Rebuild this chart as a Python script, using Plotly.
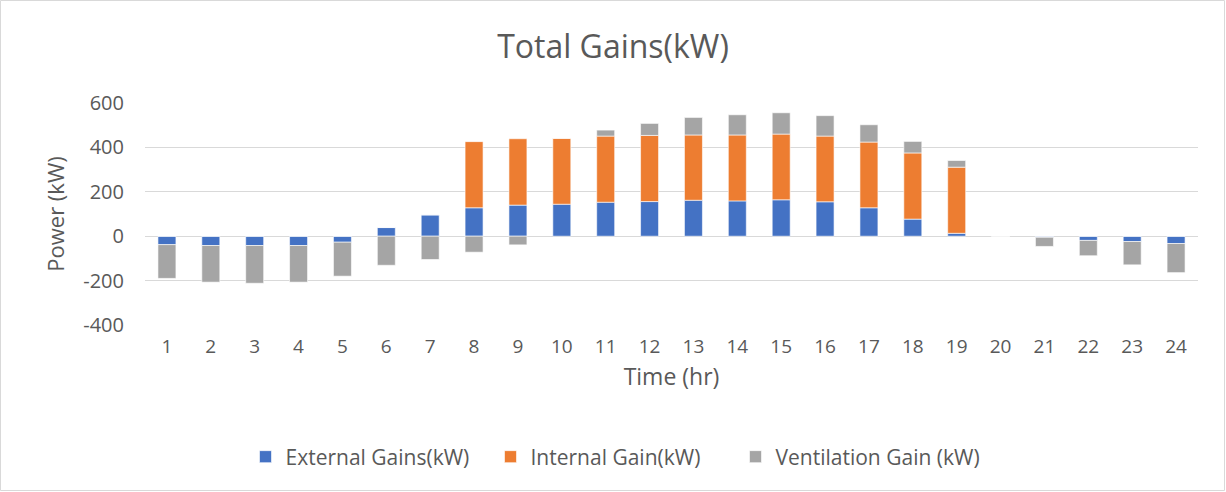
import plotly.graph_objects as go

hours = list(range(1, 25))
external = [-38, -42, -42, -42, -27, 39, 96, 128, 140, 144, 153, 156, 162, 159, 164, 155,
            128, 77, 13, 0, -5, -19, -24, -33]
internal = [0, 0, 0, 0, 0, 0, 0, 298, 299, 297, 298, 298, 294, 297, 296, 296,
            296, 298, 298, 0, 0, 0, 0, 0]
ventilation = [-152, -165, -170, -165, -153, -131, -105, -72, -39, 0, 27, 54, 79, 91, 96, 92,
               78, 52, 30, -2, -41, -69, -105, -131]
ytick_vals = [600, 400, 200, 0, -200, -400]
ytick_text = ["600", "400", "200", "0", "-200", "-400"]

FONT = "Open Sans"
TXT = "#595959"
line = dict(color="rgba(255,255,255,0.6)", width=1)

fig = go.Figure()
fig.add_trace(go.Bar(x=hours, y=external, name="External Gains(kW)",
                     marker=dict(color="#4472C4", line=line)))
fig.add_trace(go.Bar(x=hours, y=internal, name="Internal Gain(kW)",
                     marker=dict(color="#ED7D31", line=line)))
fig.add_trace(go.Bar(x=hours, y=ventilation, name="Ventilation Gain (kW)",
                     marker=dict(color="#A5A5A5", line=line)))

W, H = 1226, 492
ml, mr, mt, mb = 145, 28, 103, 167
pw, ph = W - ml - mr, H - mt - mb

fig.update_layout(
    width=W, height=H,
    barmode="relative", bargap=0.59,
    plot_bgcolor="white", paper_bgcolor="white",
    margin=dict(l=ml, r=mr, t=mt, b=mb, autoexpand=False),
    font=dict(family=FONT, color=TXT, size=19),
    title=dict(text="Total Gains(kW)", x=0.5, xref="container", xanchor="center",
               y=1 - 47 / H, yref="container", yanchor="middle",
               font=dict(family=FONT, size=32, color=TXT)),
    xaxis=dict(tickmode="array", tickvals=hours, ticktext=[str(h) for h in hours],
               range=[0.5, 24.5], showgrid=False, zeroline=False, showline=False,
               ticks="", ticklabelstandoff=8, automargin=False,
               tickfont=dict(size=19, color=TXT),
               title=dict(text="Time (hr)", font=dict(size=23, color=TXT), standoff=10)),
    yaxis=dict(range=[-400, 600], tickmode="array", tickvals=ytick_vals, ticktext=ytick_text,
               showgrid=True, gridcolor="#D9D9D9", gridwidth=1,
               zeroline=True, zerolinecolor="#D9D9D9", zerolinewidth=1,
               showline=False, ticks="", ticklabelstandoff=20, automargin=False,
               tickfont=dict(size=20, color=TXT),
               title=dict(text="Power (kW)", font=dict(size=22, color=TXT), standoff=12)),
    legend=dict(orientation="h", x=0.5, xref="container", xanchor="center",
                y=1 - 457 / H, yref="container", yanchor="middle",
                font=dict(size=21, color=TXT), traceorder="normal",
                itemwidth=30, tracegroupgap=0, entrywidth=200, entrywidthmode="pixels"),
    shapes=[dict(type="rect", xref="paper", yref="paper",
                 x0=(0.5 - ml) / pw, x1=(W - 1.5 - ml) / pw,
                 y0=-(mb - 1.5) / ph, y1=1 + (mt - 0.5) / ph,
                 line=dict(color="#D9D9D9", width=1), layer="below")],
)

fig.write_html("out.html", config={"displayModeBar": False},
               post_script="document.body.style.margin='0';document.body.style.overflow='hidden';")
